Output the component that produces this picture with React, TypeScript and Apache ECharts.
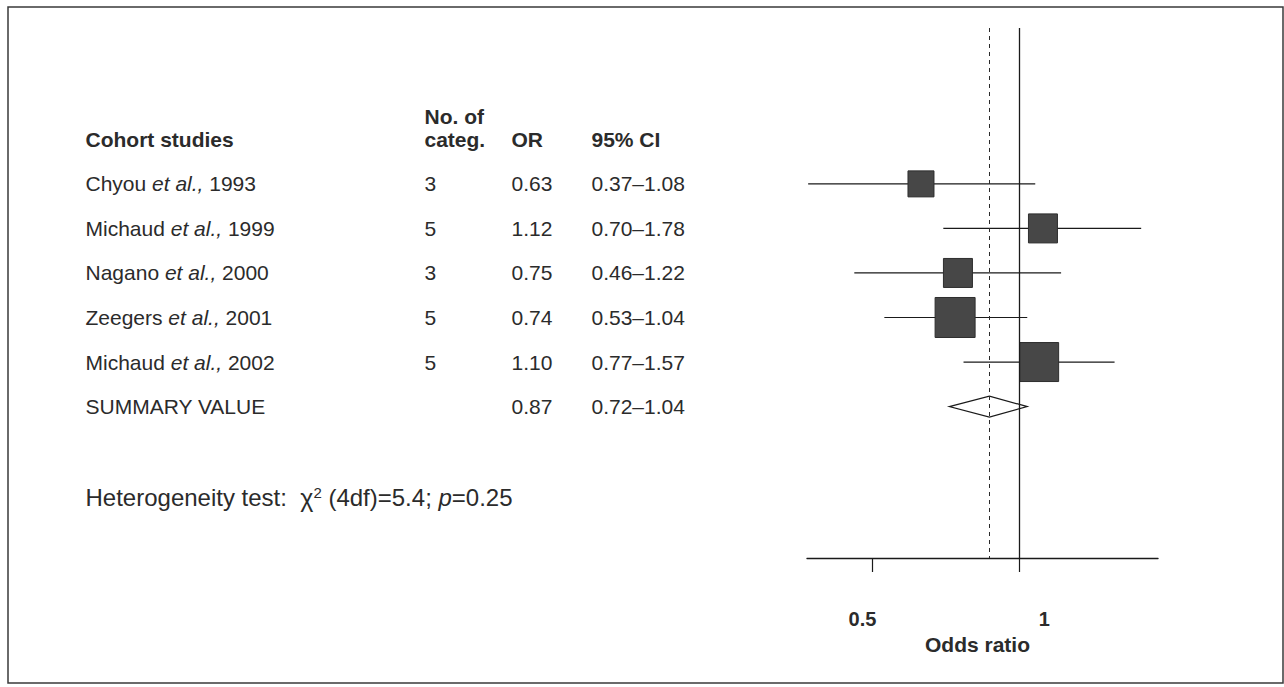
import React, { useEffect, useRef } from 'react';
import * as echarts from 'echarts';

// ---- data ----
const studyAuthors = ['Chyou', 'Michaud', 'Nagano', 'Zeegers', 'Michaud'];
const studyYears = [1993, 1999, 2000, 2001, 2002];
const categoryCounts = [3, 5, 3, 5, 5];
const oddsRatios = [0.63, 1.12, 0.75, 0.74, 1.1];
const ciLower = [0.37, 0.7, 0.46, 0.53, 0.77];
const ciUpper = [1.08, 1.78, 1.22, 1.04, 1.57];
const studyWeights = [26, 29, 29, 40, 39]; // box side (study weight)
const summaryLabel = 'SUMMARY VALUE';
const summaryOR = 0.87;
const summaryLower = 0.72;
const summaryUpper = 1.04;
const headerLabels = ['Cohort studies', 'categ.', 'OR', '95% CI'];
const headerTopLabel = 'No. of';
const heterogeneityText = 'Heterogeneity test:  {g|\u03c7}{sup|2} (4df)=5.4; {i|p}=0.25';
const axisTickValues = [0.5, 1];
const axisTickLabels = ['0.5', '1'];
const axisTitle = 'Odds ratio';

const FONT = '"Liberation Sans", Arial, Helvetica, sans-serif';
const TEXT = '#2b2b2b';
const colX = [0, 339, 426, 506];

export default function App() {
  const ref = useRef<HTMLDivElement>(null);
  useEffect(() => {
    if (!ref.current) return;
    const chart = echarts.init(ref.current, undefined, { renderer: 'svg' });
    const fmt = (v: number) => v.toFixed(2);

    const baseLabel = { show: true, position: 'right', distance: 0, fontSize: 21, color: TEXT, fontFamily: FONT };
    const richItalic = { i: { fontStyle: 'italic', fontSize: 21, color: TEXT, fontFamily: FONT } };
    const textItems: any[] = [];
    const put = (col: number, row: number, text: string, extra: any = {}) =>
      textItems.push({ value: [colX[col], row], label: { ...baseLabel, ...extra, formatter: () => text } });

    put(1, -0.52, headerTopLabel, { fontWeight: 'bold' });
    headerLabels.forEach((h, c) => put(c, 0, h, { fontWeight: 'bold' }));
    studyAuthors.forEach((a, k) => {
      const row = k + 1;
      put(0, row, `${a} {i|et al.,} ${studyYears[k]}`, { rich: richItalic });
      put(1, row, String(categoryCounts[k]));
      put(2, row, fmt(oddsRatios[k]));
      put(3, row, `${fmt(ciLower[k])}\u2013${fmt(ciUpper[k])}`);
    });
    put(0, 6, summaryLabel);
    put(2, 6, fmt(summaryOR));
    put(3, 6, `${fmt(summaryLower)}\u2013${fmt(summaryUpper)}`);
    put(0, 8.05, heterogeneityText, {
      fontSize: 24,
      rich: {
        i: { fontStyle: 'italic', fontSize: 24, color: TEXT, fontFamily: FONT },
        g: { fontSize: 25, color: TEXT, fontFamily: FONT },
        sup: { fontSize: 15, color: TEXT, fontFamily: FONT, padding: [0, 0, 10, 0] },
      },
    });

    const studyData = oddsRatios.map((or, k) => [or, ciLower[k], ciUpper[k], k + 1, studyWeights[k]]);
    const summaryData = [[summaryOR, summaryLower, summaryUpper, 6]];

    const yCommon = { type: 'value', min: -2.5, max: 9.4, inverse: true, show: false };

    chart.setOption({
      animation: false,
      backgroundColor: '#ffffff',
      textStyle: { fontFamily: FONT },
      grid: [
        { left: 807, right: 126, top: 28, bottom: 129, outerBoundsMode: 'none', containLabel: false },
        { left: 85, width: 620, top: 28, bottom: 129, outerBoundsMode: 'none', containLabel: false },
      ],
      xAxis: [
        {
          type: 'log',
          gridIndex: 0,
          min: 0.368,
          max: 1.927,
          axisLine: { show: true, onZero: false, lineStyle: { color: '#1a1a1a', width: 1.4 } },
          axisTick: { show: true, length: 14, customValues: axisTickValues, lineStyle: { color: '#1a1a1a', width: 1.2 } },
          axisLabel: {
            customValues: axisTickValues,
            margin: 51,
            formatter: (v: number) => (v < 0.75 ? `{a|${axisTickLabels[0]}}` : `{b|${axisTickLabels[1]}}`),
            rich: {
              a: { fontSize: 20, fontWeight: 'bold', color: TEXT, fontFamily: FONT, padding: [0, 19, 0, 0] },
              b: { fontSize: 20, fontWeight: 'bold', color: TEXT, fontFamily: FONT, padding: [0, 0, 0, 51] },
            },
          },
          splitLine: { show: false },
          minorTick: { show: false },
          name: axisTitle,
          nameLocation: 'middle',
          nameGap: 76,
          nameTextStyle: { fontSize: 21, fontWeight: 'bold', color: TEXT, fontFamily: FONT, padding: [0, 10, 0, 0] },
        },
        { type: 'value', gridIndex: 1, min: 0, max: 620, show: false },
      ],
      yAxis: [
        { ...yCommon, gridIndex: 0 },
        { ...yCommon, gridIndex: 1 },
      ],
      graphic: [
        {
          type: 'rect',
          silent: true,
          shape: { x: 8, y: 7, width: 1275, height: 676 },
          style: { fill: 'none', stroke: '#3a3a3a', lineWidth: 1.5 },
          z: -1,
        },
      ],
      series: [
        {
          type: 'custom',
          xAxisIndex: 0,
          yAxisIndex: 0,
          silent: true,
          clip: false,
          data: studyData,
          encode: { x: [0, 1, 2], y: 3 },
          renderItem: (_p: any, api: any) => {
            const y = api.value(3);
            const c = api.coord([api.value(0), y]);
            const l = api.coord([api.value(1), y]);
            const h = api.coord([api.value(2), y]);
            const s = api.value(4);
            return {
              type: 'group',
              children: [
                { type: 'line', shape: { x1: l[0], y1: c[1], x2: h[0], y2: c[1] }, style: { stroke: '#1a1a1a', lineWidth: 1.2 } },
                { type: 'rect', shape: { x: c[0] - s / 2, y: c[1] - s / 2, width: s, height: s }, style: { fill: '#474747', stroke: '#2e2e2e', lineWidth: 1 } },
              ],
            };
          },
          markLine: {
            silent: true,
            symbol: 'none',
            label: { show: false },
            data: [
              { xAxis: 1, lineStyle: { color: '#1a1a1a', width: 1.3, type: 'solid' } },
              { xAxis: summaryOR, lineStyle: { color: '#2a2a2a', width: 1, type: [4, 4] } },
            ],
          },
          z: 3,
        },
        {
          type: 'custom',
          xAxisIndex: 0,
          yAxisIndex: 0,
          silent: true,
          clip: false,
          data: summaryData,
          encode: { x: [0, 1, 2], y: 3 },
          renderItem: (_p: any, api: any) => {
            const y = api.value(3);
            const c = api.coord([api.value(0), y]);
            const l = api.coord([api.value(1), y]);
            const h = api.coord([api.value(2), y]);
            const hh = 10.5;
            return {
              type: 'polygon',
              shape: { points: [[l[0], c[1]], [c[0], c[1] - hh], [h[0], c[1]], [c[0], c[1] + hh]] },
              style: { fill: '#ffffff', stroke: '#1a1a1a', lineWidth: 1.2 },
            };
          },
          z: 4,
        },
        {
          type: 'scatter',
          xAxisIndex: 1,
          yAxisIndex: 1,
          silent: true,
          symbol: 'circle',
          symbolSize: 1,
          itemStyle: { color: 'rgba(0,0,0,0)', opacity: 1 },
          label: { show: true, position: 'right', distance: 0, color: TEXT },
          emphasis: { disabled: true },
          labelLayout: { hideOverlap: false },
          data: textItems,
          z: 5,
        },
      ],
    });
    return () => chart.dispose();
  }, []);
  return (
    <div
      ref={ref}
      style={{ position: 'fixed', left: 0, top: 0, width: 1284, height: 687, background: '#fff' }}
    />
  );
}
